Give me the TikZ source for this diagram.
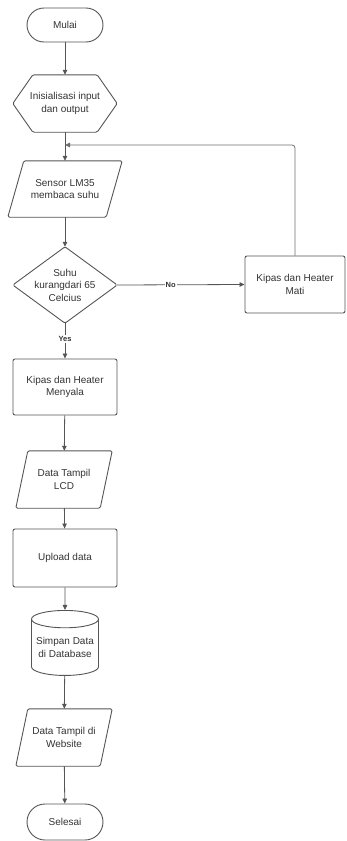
\documentclass[tikz,border=0pt]{standalone}
\usepackage{fontspec}
\setmainfont{Liberation Sans}
\usetikzlibrary{arrows.meta,shapes.geometric}
\definecolor{ln}{HTML}{555555}
\definecolor{tx}{HTML}{333333}
\tikzset{
  base/.style={font=\fontsize{10}{12.5}\selectfont, text=tx, align=center, inner sep=0pt},
  term/.style={base, draw=ln, line width=0.9pt, rounded corners=17pt, minimum width=76pt, minimum height=34pt},
  procbox/.style={base, draw=ln, line width=0.9pt, rounded corners=2pt, minimum width=104pt, minimum height=57pt},
  ghost/.style={base},
  outl/.style={draw=ln, line width=0.9pt, rounded corners=1.5pt},
  flow/.style={draw=ln, line width=0.8pt, -{Triangle[length=5pt,width=4.5pt]}},
  lbl/.style={font=\fontsize{7.5}{8}\selectfont\bfseries, text=tx, fill=white, inner sep=1pt},
  db/.style={base, draw=ln, line width=0.9pt, cylinder, shape border rotate=90, aspect=0.3, minimum width=67pt, minimum height=65pt}
}
\begin{document}
\begin{tikzpicture}[x=1pt,y=-1pt]
\useasboundingbox (0,0) rectangle (346,841);
% nodes
\node[term] (start) at (65,25) {Mulai};
\node[ghost, minimum width=104pt, minimum height=57pt] (init) at (65,103.5) {Inisialisasi input\\dan output};
\draw[outl] (init.west) -- ([xshift=20pt]init.north west) -- ([xshift=-20pt]init.north east) -- (init.east) -- ([xshift=-20pt]init.south east) -- ([xshift=20pt]init.south west) -- cycle;
\node[ghost, minimum width=114pt, minimum height=56pt] (sens) at (65,189) {Sensor LM35\\membaca suhu};
\draw[outl] ([xshift=16pt]sens.north west) -- (sens.north east) -- ([xshift=-16pt]sens.south east) -- (sens.south west) -- cycle;
\node[ghost, minimum width=104pt, minimum height=76pt] (dec) at (65,285) {Suhu\\kurangdari 65\\Celcius};
\draw[outl] (dec.north) -- (dec.east) -- (dec.south) -- (dec.west) -- cycle;
\node[procbox, minimum width=100pt] (mati) at (295,284.5) {Kipas dan Heater\\Mati};
\node[procbox, minimum height=56pt] (nyala) at (65,387) {Kipas dan Heater\\Menyala};
\node[ghost, minimum width=96pt, minimum height=57pt] (lcd) at (64,479.5) {Data Tampil\\LCD};
\draw[outl] ([xshift=12pt]lcd.north west) -- (lcd.north east) -- ([xshift=-12pt]lcd.south east) -- (lcd.south west) -- cycle;
\node[procbox, minimum height=58pt] (up) at (65,558) {Upload data};
\node[db] (dbs) at (65,647.5) {Simpan Data\\di Database};
\node[ghost, minimum width=96pt, minimum height=57pt] (web) at (64,737.5) {Data Tampil di\\Website};
\draw[outl] ([xshift=12pt]web.north west) -- (web.north east) -- ([xshift=-12pt]web.south east) -- (web.south west) -- cycle;
\node[term, minimum height=36pt, rounded corners=18pt] (end) at (65,822) {Selesai};
\coordinate (j) at (65,145);
% connectors
\draw[flow] (start) -- (init);
\draw[flow] (init) -- (sens);
\draw[flow] (sens) -- (dec);
\draw[flow] (dec.east) -- node[lbl, pos=0.42] {No} (mati.west);
\draw[flow] (dec.south) -- node[lbl, pos=0.45] {Yes} (nyala.north);
\draw[flow, rounded corners=3pt, draw=ln!85] (mati.north) |- (j);
\draw[flow] (nyala) -- (lcd);
\draw[flow] (lcd) -- (up);
\draw[flow] (up) -- (dbs);
\draw[flow] (dbs) -- (web);
\draw[flow] (web) -- (end);
\end{tikzpicture}
\end{document}
